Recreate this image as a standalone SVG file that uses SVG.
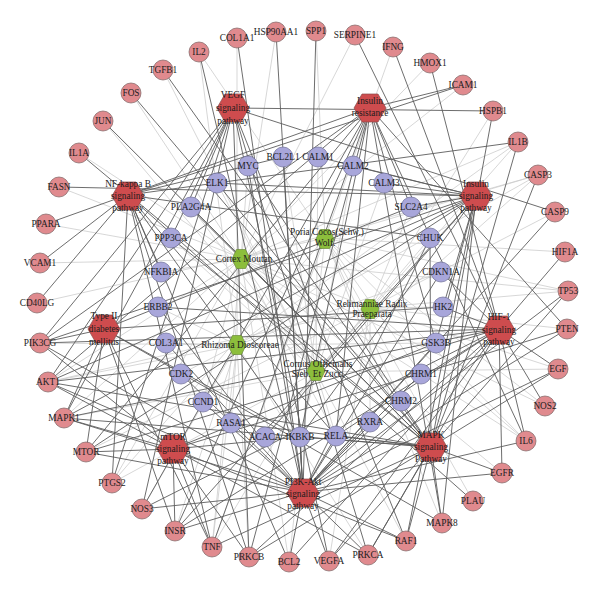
<svg xmlns="http://www.w3.org/2000/svg" xmlns:xlink="http://www.w3.org/1999/xlink" width="600" height="594" viewBox="0 0 600 594">
<style>
.l{stroke:#cdcdcd;stroke-width:0.8}
.d{stroke:#5c5c5c;stroke-width:0.9}
.pk{fill:#E08A8E;stroke:#7d6363;stroke-width:0.7}
.pu{fill:#A8A6DA;stroke:#6e6e98;stroke-width:0.7}
text{font-family:"Liberation Serif","DejaVu Serif",serif;font-size:9.3px;fill:#1c1c1c;text-anchor:middle;dominant-baseline:central}
</style>
<defs>
<polygon id="hr" points="-16,0 -8,-14 8,-14 16,0 8,14 -8,14" fill="#CE4C4E" stroke="#8a4a4a" stroke-width="0.7"/>
<polygon id="hg" points="-9,0 -4.5,-9.5 4.5,-9.5 9,0 4.5,9.5 -4.5,9.5" fill="#8CBE3C" stroke="#6a8a3a" stroke-width="0.7"/>
</defs>
<rect width="600" height="594" fill="#fff"/>
<g id="connectors">
<g id="light-edges">
<line class="l" x1="241" y1="259" x2="48" y2="382"/>
<line class="l" x1="241" y1="259" x2="212" y2="547"/>
<line class="l" x1="241" y1="259" x2="526" y2="441"/>
<line class="l" x1="241" y1="259" x2="112" y2="483"/>
<line class="l" x1="241" y1="259" x2="545" y2="406"/>
<line class="l" x1="241" y1="259" x2="64" y2="418"/>
<line class="l" x1="241" y1="259" x2="538" y2="175"/>
<line class="l" x1="241" y1="259" x2="518" y2="142"/>
<line class="l" x1="241" y1="259" x2="568" y2="291"/>
<line class="l" x1="241" y1="259" x2="103" y2="121"/>
<line class="l" x1="241" y1="259" x2="463" y2="85"/>
<line class="l" x1="241" y1="259" x2="40" y2="263"/>
<line class="l" x1="241" y1="259" x2="430" y2="63"/>
<line class="l" x1="241" y1="259" x2="161" y2="272"/>
<line class="l" x1="241" y1="259" x2="336" y2="436"/>
<line class="l" x1="241" y1="259" x2="502" y2="473"/>
<line class="l" x1="241" y1="259" x2="289" y2="562"/>
<line class="l" x1="241" y1="259" x2="248" y2="166"/>
<line class="l" x1="241" y1="259" x2="79" y2="153"/>
<line class="l" x1="241" y1="259" x2="355" y2="35"/>
<line class="l" x1="241" y1="259" x2="203" y2="402"/>
<line class="l" x1="241" y1="259" x2="46" y2="224"/>
<line class="l" x1="241" y1="259" x2="276" y2="32"/>
<line class="l" x1="325" y1="238" x2="212" y2="547"/>
<line class="l" x1="325" y1="238" x2="526" y2="441"/>
<line class="l" x1="325" y1="238" x2="112" y2="483"/>
<line class="l" x1="325" y1="238" x2="538" y2="175"/>
<line class="l" x1="325" y1="238" x2="289" y2="562"/>
<line class="l" x1="325" y1="238" x2="545" y2="406"/>
<line class="l" x1="325" y1="238" x2="393" y2="47"/>
<line class="l" x1="325" y1="238" x2="199" y2="52"/>
<line class="l" x1="325" y1="238" x2="568" y2="291"/>
<line class="l" x1="325" y1="238" x2="565" y2="252"/>
<line class="l" x1="325" y1="238" x2="421" y2="374"/>
<line class="l" x1="325" y1="238" x2="401" y2="401"/>
<line class="l" x1="325" y1="238" x2="442" y2="523"/>
<line class="l" x1="325" y1="238" x2="316" y2="31"/>
<line class="l" x1="325" y1="238" x2="37" y2="303"/>
<line class="l" x1="325" y1="238" x2="473" y2="501"/>
<line class="l" x1="370" y1="308" x2="48" y2="382"/>
<line class="l" x1="370" y1="308" x2="568" y2="291"/>
<line class="l" x1="370" y1="308" x2="329" y2="561"/>
<line class="l" x1="370" y1="308" x2="526" y2="441"/>
<line class="l" x1="370" y1="308" x2="555" y2="212"/>
<line class="l" x1="370" y1="308" x2="558" y2="369"/>
<line class="l" x1="370" y1="308" x2="567" y2="329"/>
<line class="l" x1="370" y1="308" x2="493" y2="111"/>
<line class="l" x1="370" y1="308" x2="86" y2="452"/>
<line class="l" x1="370" y1="308" x2="443" y2="307"/>
<line class="l" x1="370" y1="308" x2="411" y2="207"/>
<line class="l" x1="370" y1="308" x2="59" y2="187"/>
<line class="l" x1="370" y1="308" x2="265" y2="437"/>
<line class="l" x1="370" y1="308" x2="370" y2="422"/>
<line class="l" x1="237" y1="345" x2="48" y2="382"/>
<line class="l" x1="237" y1="345" x2="175" y2="531"/>
<line class="l" x1="237" y1="345" x2="40" y2="343"/>
<line class="l" x1="237" y1="345" x2="538" y2="175"/>
<line class="l" x1="237" y1="345" x2="212" y2="547"/>
<line class="l" x1="237" y1="345" x2="518" y2="142"/>
<line class="l" x1="237" y1="345" x2="237" y2="38"/>
<line class="l" x1="237" y1="345" x2="166" y2="343"/>
<line class="l" x1="237" y1="345" x2="199" y2="52"/>
<line class="l" x1="237" y1="345" x2="436" y2="343"/>
<line class="l" x1="237" y1="345" x2="181" y2="374"/>
<line class="l" x1="237" y1="345" x2="441" y2="272"/>
<line class="l" x1="237" y1="345" x2="158" y2="307"/>
<line class="l" x1="237" y1="345" x2="368" y2="555"/>
<line class="l" x1="237" y1="345" x2="249" y2="557"/>
<line class="l" x1="237" y1="345" x2="231" y2="423"/>
<line class="l" x1="237" y1="345" x2="142" y2="509"/>
<line class="l" x1="316" y1="372" x2="131" y2="93"/>
<line class="l" x1="316" y1="372" x2="163" y2="70"/>
<line class="l" x1="316" y1="372" x2="103" y2="121"/>
<line class="l" x1="316" y1="372" x2="336" y2="436"/>
<line class="l" x1="316" y1="372" x2="300" y2="437"/>
<line class="l" x1="316" y1="372" x2="430" y2="238"/>
<line class="l" x1="316" y1="372" x2="283" y2="157"/>
<line class="l" x1="316" y1="372" x2="217" y2="183"/>
<line class="l" x1="316" y1="372" x2="318" y2="157"/>
<line class="l" x1="316" y1="372" x2="353" y2="166"/>
<line class="l" x1="316" y1="372" x2="384" y2="183"/>
<line class="l" x1="316" y1="372" x2="171" y2="238"/>
<line class="l" x1="316" y1="372" x2="191" y2="207"/>
<line class="l" x1="316" y1="372" x2="558" y2="369"/>
<line class="l" x1="316" y1="372" x2="64" y2="418"/>
<line class="l" x1="316" y1="372" x2="406" y2="541"/>
<line class="l" x1="316" y1="372" x2="518" y2="142"/>
<line class="l" x1="316" y1="372" x2="538" y2="175"/>
<line class="l" x1="316" y1="372" x2="212" y2="547"/>
<line class="l" x1="316" y1="372" x2="112" y2="483"/>
</g>
<g id="dark-edges">
<line class="d" x1="233" y1="108" x2="493" y2="111"/>
<line class="d" x1="233" y1="108" x2="191" y2="207"/>
<line class="d" x1="233" y1="108" x2="171" y2="238"/>
<line class="d" x1="233" y1="108" x2="112" y2="483"/>
<line class="d" x1="233" y1="108" x2="142" y2="509"/>
<line class="d" x1="233" y1="108" x2="64" y2="418"/>
<line class="d" x1="233" y1="108" x2="48" y2="382"/>
<line class="d" x1="233" y1="108" x2="40" y2="343"/>
<line class="d" x1="233" y1="108" x2="406" y2="541"/>
<line class="d" x1="233" y1="108" x2="368" y2="555"/>
<line class="d" x1="233" y1="108" x2="249" y2="557"/>
<line class="d" x1="233" y1="108" x2="555" y2="212"/>
<line class="d" x1="233" y1="108" x2="329" y2="561"/>
<line class="d" x1="370" y1="108" x2="463" y2="85"/>
<line class="d" x1="370" y1="108" x2="48" y2="382"/>
<line class="d" x1="370" y1="108" x2="86" y2="452"/>
<line class="d" x1="370" y1="108" x2="40" y2="343"/>
<line class="d" x1="370" y1="108" x2="175" y2="531"/>
<line class="d" x1="370" y1="108" x2="411" y2="207"/>
<line class="d" x1="370" y1="108" x2="436" y2="343"/>
<line class="d" x1="370" y1="108" x2="212" y2="547"/>
<line class="d" x1="370" y1="108" x2="300" y2="437"/>
<line class="d" x1="370" y1="108" x2="336" y2="436"/>
<line class="d" x1="370" y1="108" x2="567" y2="329"/>
<line class="d" x1="370" y1="108" x2="46" y2="224"/>
<line class="d" x1="370" y1="108" x2="442" y2="523"/>
<line class="d" x1="370" y1="108" x2="526" y2="441"/>
<line class="d" x1="370" y1="108" x2="142" y2="509"/>
<line class="d" x1="370" y1="108" x2="249" y2="557"/>
<line class="d" x1="128" y1="195" x2="518" y2="142"/>
<line class="d" x1="128" y1="195" x2="212" y2="547"/>
<line class="d" x1="128" y1="195" x2="336" y2="436"/>
<line class="d" x1="128" y1="195" x2="161" y2="272"/>
<line class="d" x1="128" y1="195" x2="300" y2="437"/>
<line class="d" x1="128" y1="195" x2="430" y2="238"/>
<line class="d" x1="128" y1="195" x2="463" y2="85"/>
<line class="d" x1="128" y1="195" x2="40" y2="263"/>
<line class="d" x1="128" y1="195" x2="37" y2="303"/>
<line class="d" x1="128" y1="195" x2="289" y2="562"/>
<line class="d" x1="128" y1="195" x2="283" y2="157"/>
<line class="d" x1="128" y1="195" x2="112" y2="483"/>
<line class="d" x1="128" y1="195" x2="473" y2="501"/>
<line class="d" x1="128" y1="195" x2="249" y2="557"/>
<line class="d" x1="476" y1="196" x2="59" y2="187"/>
<line class="d" x1="476" y1="196" x2="175" y2="531"/>
<line class="d" x1="476" y1="196" x2="48" y2="382"/>
<line class="d" x1="476" y1="196" x2="40" y2="343"/>
<line class="d" x1="476" y1="196" x2="86" y2="452"/>
<line class="d" x1="476" y1="196" x2="411" y2="207"/>
<line class="d" x1="476" y1="196" x2="436" y2="343"/>
<line class="d" x1="476" y1="196" x2="443" y2="307"/>
<line class="d" x1="476" y1="196" x2="265" y2="437"/>
<line class="d" x1="476" y1="196" x2="318" y2="157"/>
<line class="d" x1="476" y1="196" x2="353" y2="166"/>
<line class="d" x1="476" y1="196" x2="384" y2="183"/>
<line class="d" x1="476" y1="196" x2="406" y2="541"/>
<line class="d" x1="476" y1="196" x2="64" y2="418"/>
<line class="d" x1="476" y1="196" x2="442" y2="523"/>
<line class="d" x1="476" y1="196" x2="217" y2="183"/>
<line class="d" x1="476" y1="196" x2="300" y2="437"/>
<line class="d" x1="104" y1="329" x2="175" y2="531"/>
<line class="d" x1="104" y1="329" x2="411" y2="207"/>
<line class="d" x1="104" y1="329" x2="40" y2="343"/>
<line class="d" x1="104" y1="329" x2="86" y2="452"/>
<line class="d" x1="104" y1="329" x2="300" y2="437"/>
<line class="d" x1="104" y1="329" x2="212" y2="547"/>
<line class="d" x1="104" y1="329" x2="64" y2="418"/>
<line class="d" x1="104" y1="329" x2="442" y2="523"/>
<line class="d" x1="104" y1="329" x2="443" y2="307"/>
<line class="d" x1="499" y1="329" x2="565" y2="252"/>
<line class="d" x1="499" y1="329" x2="329" y2="561"/>
<line class="d" x1="499" y1="329" x2="545" y2="406"/>
<line class="d" x1="499" y1="329" x2="142" y2="509"/>
<line class="d" x1="499" y1="329" x2="558" y2="369"/>
<line class="d" x1="499" y1="329" x2="502" y2="473"/>
<line class="d" x1="499" y1="329" x2="158" y2="307"/>
<line class="d" x1="499" y1="329" x2="48" y2="382"/>
<line class="d" x1="499" y1="329" x2="40" y2="343"/>
<line class="d" x1="499" y1="329" x2="86" y2="452"/>
<line class="d" x1="499" y1="329" x2="64" y2="418"/>
<line class="d" x1="499" y1="329" x2="430" y2="63"/>
<line class="d" x1="499" y1="329" x2="393" y2="47"/>
<line class="d" x1="499" y1="329" x2="526" y2="441"/>
<line class="d" x1="499" y1="329" x2="441" y2="272"/>
<line class="d" x1="499" y1="329" x2="289" y2="562"/>
<line class="d" x1="499" y1="329" x2="336" y2="436"/>
<line class="d" x1="499" y1="329" x2="175" y2="531"/>
<line class="d" x1="499" y1="329" x2="443" y2="307"/>
<line class="d" x1="499" y1="329" x2="368" y2="555"/>
<line class="d" x1="499" y1="329" x2="249" y2="557"/>
<line class="d" x1="499" y1="329" x2="355" y2="35"/>
<line class="d" x1="173" y1="449" x2="86" y2="452"/>
<line class="d" x1="173" y1="449" x2="48" y2="382"/>
<line class="d" x1="173" y1="449" x2="40" y2="343"/>
<line class="d" x1="173" y1="449" x2="64" y2="418"/>
<line class="d" x1="173" y1="449" x2="406" y2="541"/>
<line class="d" x1="173" y1="449" x2="567" y2="329"/>
<line class="d" x1="173" y1="449" x2="436" y2="343"/>
<line class="d" x1="173" y1="449" x2="212" y2="547"/>
<line class="d" x1="173" y1="449" x2="300" y2="437"/>
<line class="d" x1="173" y1="449" x2="175" y2="531"/>
<line class="d" x1="173" y1="449" x2="368" y2="555"/>
<line class="d" x1="173" y1="449" x2="249" y2="557"/>
<line class="d" x1="431" y1="447" x2="64" y2="418"/>
<line class="d" x1="431" y1="447" x2="442" y2="523"/>
<line class="d" x1="431" y1="447" x2="406" y2="541"/>
<line class="d" x1="431" y1="447" x2="217" y2="183"/>
<line class="d" x1="431" y1="447" x2="131" y2="93"/>
<line class="d" x1="431" y1="447" x2="103" y2="121"/>
<line class="d" x1="431" y1="447" x2="248" y2="166"/>
<line class="d" x1="431" y1="447" x2="568" y2="291"/>
<line class="d" x1="431" y1="447" x2="212" y2="547"/>
<line class="d" x1="431" y1="447" x2="79" y2="153"/>
<line class="d" x1="431" y1="447" x2="518" y2="142"/>
<line class="d" x1="431" y1="447" x2="558" y2="369"/>
<line class="d" x1="431" y1="447" x2="502" y2="473"/>
<line class="d" x1="431" y1="447" x2="368" y2="555"/>
<line class="d" x1="431" y1="447" x2="249" y2="557"/>
<line class="d" x1="431" y1="447" x2="191" y2="207"/>
<line class="d" x1="431" y1="447" x2="171" y2="238"/>
<line class="d" x1="431" y1="447" x2="430" y2="238"/>
<line class="d" x1="431" y1="447" x2="300" y2="437"/>
<line class="d" x1="431" y1="447" x2="336" y2="436"/>
<line class="d" x1="431" y1="447" x2="493" y2="111"/>
<line class="d" x1="431" y1="447" x2="538" y2="175"/>
<line class="d" x1="431" y1="447" x2="48" y2="382"/>
<line class="d" x1="431" y1="447" x2="329" y2="561"/>
<line class="d" x1="431" y1="447" x2="163" y2="70"/>
<line class="d" x1="431" y1="447" x2="231" y2="423"/>
<line class="d" x1="303" y1="492" x2="48" y2="382"/>
<line class="d" x1="303" y1="492" x2="40" y2="343"/>
<line class="d" x1="303" y1="492" x2="86" y2="452"/>
<line class="d" x1="303" y1="492" x2="567" y2="329"/>
<line class="d" x1="303" y1="492" x2="436" y2="343"/>
<line class="d" x1="303" y1="492" x2="248" y2="166"/>
<line class="d" x1="303" y1="492" x2="203" y2="402"/>
<line class="d" x1="303" y1="492" x2="181" y2="374"/>
<line class="d" x1="303" y1="492" x2="441" y2="272"/>
<line class="d" x1="303" y1="492" x2="289" y2="562"/>
<line class="d" x1="303" y1="492" x2="283" y2="157"/>
<line class="d" x1="303" y1="492" x2="555" y2="212"/>
<line class="d" x1="303" y1="492" x2="568" y2="291"/>
<line class="d" x1="303" y1="492" x2="558" y2="369"/>
<line class="d" x1="303" y1="492" x2="502" y2="473"/>
<line class="d" x1="303" y1="492" x2="158" y2="307"/>
<line class="d" x1="303" y1="492" x2="329" y2="561"/>
<line class="d" x1="303" y1="492" x2="526" y2="441"/>
<line class="d" x1="303" y1="492" x2="199" y2="52"/>
<line class="d" x1="303" y1="492" x2="175" y2="531"/>
<line class="d" x1="303" y1="492" x2="276" y2="32"/>
<line class="d" x1="303" y1="492" x2="237" y2="38"/>
<line class="d" x1="303" y1="492" x2="166" y2="343"/>
<line class="d" x1="303" y1="492" x2="316" y2="31"/>
<line class="d" x1="303" y1="492" x2="370" y2="422"/>
<line class="d" x1="303" y1="492" x2="421" y2="374"/>
<line class="d" x1="303" y1="492" x2="401" y2="401"/>
<line class="d" x1="303" y1="492" x2="336" y2="436"/>
<line class="d" x1="303" y1="492" x2="300" y2="437"/>
<line class="d" x1="303" y1="492" x2="430" y2="238"/>
<line class="d" x1="303" y1="492" x2="406" y2="541"/>
<line class="d" x1="303" y1="492" x2="64" y2="418"/>
<line class="d" x1="303" y1="492" x2="368" y2="555"/>
<line class="d" x1="303" y1="492" x2="142" y2="509"/>
</g>
</g>
<g id="pathways">
<g id="n-vegf"><use href="#hr" x="233" y="108"/><text x="233" y="95">VEGF</text><text x="233" y="108">signaling</text><text x="233" y="121">pathway</text></g>
<g id="n-ir"><use href="#hr" x="370" y="108"/><text x="370" y="101">Insulin</text><text x="370" y="113">resistance</text></g>
<g id="n-nfkb"><use href="#hr" x="128" y="196"/><text x="128" y="184">NF-kappa B</text><text x="128" y="196">signaling</text><text x="128" y="208">pathway</text></g>
<g id="n-isp"><use href="#hr" x="476" y="196"/><text x="476" y="184">Insulin</text><text x="476" y="196">signaling</text><text x="476" y="208">pathway</text></g>
<g id="n-t2d"><use href="#hr" x="104" y="329"/><text x="104" y="316">Type II</text><text x="104" y="329">diabetes</text><text x="104" y="342">mellitus</text></g>
<g id="n-hif"><use href="#hr" x="499" y="330"/><text x="499" y="317">HIF-1</text><text x="499" y="330">signaling</text><text x="499" y="342">pathway</text></g>
<g id="n-mtor"><use href="#hr" x="173" y="449"/><text x="173" y="437">mTOR</text><text x="173" y="449">signaling</text><text x="173" y="461">pathway</text></g>
<g id="n-mapk"><use href="#hr" x="431" y="447"/><text x="431" y="435">MAPK</text><text x="431" y="447">signaling</text><text x="431" y="459">Pathway</text></g>
<g id="n-pi3k"><use href="#hr" x="303" y="493"/><text x="303" y="482">PI3K-Akt</text><text x="303" y="494">signaling</text><text x="303" y="506">pathway</text></g>
</g>
<g id="herbs">
<g id="n-cm"><use href="#hg" x="241" y="259"/><text x="244" y="259">Cortex Moutan</text></g>
<g id="n-pc"><use href="#hg" x="325" y="239"/><text x="327" y="232">Poria Cocos(Schw.)</text><text x="325" y="243">Wolf.</text></g>
<g id="n-rr"><use href="#hg" x="370" y="309"/><text x="372" y="304">Rehmanniae Radix</text><text x="372" y="314">Praeparata</text></g>
<g id="n-rd"><use href="#hg" x="237" y="345"/><text x="240" y="345">Rhizoma Dioscoreae</text></g>
<g id="n-co"><use href="#hg" x="316" y="371"/><text x="318" y="364">Cornus Officinalis</text><text x="318" y="374">Sieb. Et Zucc.</text></g>
</g>
<g id="targets">
<g id="n-myc"><circle class="pu" cx="248" cy="166" r="10"/><text x="248" y="166">MYC</text></g>
<g id="n-bcl2l1"><circle class="pu" cx="283" cy="157" r="10"/><text x="283" y="157">BCL2L1</text></g>
<g id="n-calm1"><circle class="pu" cx="318" cy="157" r="10"/><text x="318" y="157">CALM1</text></g>
<g id="n-calm2"><circle class="pu" cx="353" cy="166" r="10"/><text x="353" y="166">CALM2</text></g>
<g id="n-calm3"><circle class="pu" cx="384" cy="183" r="10"/><text x="384" y="183">CALM3</text></g>
<g id="n-slc2a4"><circle class="pu" cx="411" cy="207" r="10"/><text x="411" y="207">SLC2A4</text></g>
<g id="n-chuk"><circle class="pu" cx="430" cy="238" r="10"/><text x="430" y="238">CHUK</text></g>
<g id="n-cdkn1a"><circle class="pu" cx="441" cy="272" r="10"/><text x="441" y="272">CDKN1A</text></g>
<g id="n-hk2"><circle class="pu" cx="443" cy="307" r="10"/><text x="443" y="307">HK2</text></g>
<g id="n-gsk3b"><circle class="pu" cx="436" cy="343" r="10"/><text x="436" y="343">GSK3B</text></g>
<g id="n-chrm1"><circle class="pu" cx="421" cy="374" r="10"/><text x="421" y="374">CHRM1</text></g>
<g id="n-chrm2"><circle class="pu" cx="401" cy="401" r="10"/><text x="401" y="401">CHRM2</text></g>
<g id="n-rxra"><circle class="pu" cx="370" cy="422" r="10"/><text x="370" y="422">RXRA</text></g>
<g id="n-rela"><circle class="pu" cx="336" cy="436" r="10"/><text x="336" y="436">RELA</text></g>
<g id="n-ikbkb"><circle class="pu" cx="300" cy="437" r="10"/><text x="300" y="437">IKBKB</text></g>
<g id="n-acaca"><circle class="pu" cx="265" cy="437" r="10"/><text x="265" y="437">ACACA</text></g>
<g id="n-rasa1"><circle class="pu" cx="231" cy="423" r="10"/><text x="231" y="423">RASA1</text></g>
<g id="n-ccnd1"><circle class="pu" cx="203" cy="402" r="10"/><text x="203" y="402">CCND1</text></g>
<g id="n-cdk2"><circle class="pu" cx="181" cy="374" r="10"/><text x="181" y="374">CDK2</text></g>
<g id="n-col3a1"><circle class="pu" cx="166" cy="343" r="10"/><text x="166" y="343">COL3A1</text></g>
<g id="n-erbb2"><circle class="pu" cx="158" cy="307" r="10"/><text x="158" y="307">ERBB2</text></g>
<g id="n-nfkbia"><circle class="pu" cx="161" cy="272" r="10"/><text x="161" y="272">NFKBIA</text></g>
<g id="n-ppp3ca"><circle class="pu" cx="171" cy="238" r="10"/><text x="171" y="238">PPP3CA</text></g>
<g id="n-pla2g4a"><circle class="pu" cx="191" cy="207" r="10"/><text x="191" y="207">PLA2G4A</text></g>
<g id="n-elk1"><circle class="pu" cx="217" cy="183" r="10"/><text x="217" y="183">ELK1</text></g>
<g id="n-col1a1"><circle class="pk" cx="237" cy="38" r="10"/><text x="237" y="38">COL1A1</text></g>
<g id="n-hsp90aa1"><circle class="pk" cx="276" cy="32" r="10"/><text x="276" y="32">HSP90AA1</text></g>
<g id="n-il2"><circle class="pk" cx="199" cy="52" r="10"/><text x="199" y="52">IL2</text></g>
<g id="n-tgfb1"><circle class="pk" cx="163" cy="70" r="10"/><text x="163" y="70">TGFB1</text></g>
<g id="n-fos"><circle class="pk" cx="131" cy="93" r="10"/><text x="131" y="93">FOS</text></g>
<g id="n-jun"><circle class="pk" cx="103" cy="121" r="10"/><text x="103" y="121">JUN</text></g>
<g id="n-il1a"><circle class="pk" cx="79" cy="153" r="10"/><text x="79" y="153">IL1A</text></g>
<g id="n-fasn"><circle class="pk" cx="59" cy="187" r="10"/><text x="59" y="187">FASN</text></g>
<g id="n-spp1"><circle class="pk" cx="316" cy="31" r="10"/><text x="316" y="31">SPP1</text></g>
<g id="n-serpine1"><circle class="pk" cx="355" cy="35" r="10"/><text x="355" y="35">SERPINE1</text></g>
<g id="n-ifng"><circle class="pk" cx="393" cy="47" r="10"/><text x="393" y="47">IFNG</text></g>
<g id="n-hmox1"><circle class="pk" cx="430" cy="63" r="10"/><text x="430" y="63">HMOX1</text></g>
<g id="n-icam1"><circle class="pk" cx="463" cy="85" r="10"/><text x="463" y="85">ICAM1</text></g>
<g id="n-hspb1"><circle class="pk" cx="493" cy="111" r="10"/><text x="493" y="111">HSPB1</text></g>
<g id="n-il1b"><circle class="pk" cx="518" cy="142" r="10"/><text x="518" y="142">IL1B</text></g>
<g id="n-casp3"><circle class="pk" cx="538" cy="175" r="10"/><text x="538" y="175">CASP3</text></g>
<g id="n-casp9"><circle class="pk" cx="555" cy="212" r="10"/><text x="555" y="212">CASP9</text></g>
<g id="n-hif1a"><circle class="pk" cx="565" cy="252" r="10"/><text x="565" y="252">HIF1A</text></g>
<g id="n-tp53"><circle class="pk" cx="568" cy="291" r="10"/><text x="568" y="291">TP53</text></g>
<g id="n-pten"><circle class="pk" cx="567" cy="329" r="10"/><text x="567" y="329">PTEN</text></g>
<g id="n-egf"><circle class="pk" cx="558" cy="369" r="10"/><text x="558" y="369">EGF</text></g>
<g id="n-nos2"><circle class="pk" cx="545" cy="406" r="10"/><text x="545" y="406">NOS2</text></g>
<g id="n-il6"><circle class="pk" cx="526" cy="441" r="10"/><text x="526" y="441">IL6</text></g>
<g id="n-egfr"><circle class="pk" cx="502" cy="473" r="10"/><text x="502" y="473">EGFR</text></g>
<g id="n-plau"><circle class="pk" cx="473" cy="501" r="10"/><text x="473" y="501">PLAU</text></g>
<g id="n-mapk8"><circle class="pk" cx="442" cy="523" r="10"/><text x="442" y="523">MAPK8</text></g>
<g id="n-raf1"><circle class="pk" cx="406" cy="541" r="10"/><text x="406" y="541">RAF1</text></g>
<g id="n-prkca"><circle class="pk" cx="368" cy="555" r="10"/><text x="368" y="555">PRKCA</text></g>
<g id="n-vegfa"><circle class="pk" cx="329" cy="561" r="10"/><text x="329" y="561">VEGFA</text></g>
<g id="n-bcl2"><circle class="pk" cx="289" cy="562" r="10"/><text x="289" y="562">BCL2</text></g>
<g id="n-prkcb"><circle class="pk" cx="249" cy="557" r="10"/><text x="249" y="557">PRKCB</text></g>
<g id="n-tnf"><circle class="pk" cx="212" cy="547" r="10"/><text x="212" y="547">TNF</text></g>
<g id="n-insr"><circle class="pk" cx="175" cy="531" r="10"/><text x="175" y="531">INSR</text></g>
<g id="n-nos3"><circle class="pk" cx="142" cy="509" r="10"/><text x="142" y="509">NOS3</text></g>
<g id="n-ptgs2"><circle class="pk" cx="112" cy="483" r="10"/><text x="112" y="483">PTGS2</text></g>
<g id="n-mtor-g"><circle class="pk" cx="86" cy="452" r="10"/><text x="86" y="452">MTOR</text></g>
<g id="n-mapk1"><circle class="pk" cx="64" cy="418" r="10"/><text x="64" y="418">MAPK1</text></g>
<g id="n-akt1"><circle class="pk" cx="48" cy="382" r="10"/><text x="48" y="382">AKT1</text></g>
<g id="n-pik3cg"><circle class="pk" cx="40" cy="343" r="10"/><text x="40" y="343">PIK3CG</text></g>
<g id="n-cd40lg"><circle class="pk" cx="37" cy="303" r="10"/><text x="37" y="303">CD40LG</text></g>
<g id="n-vcam1"><circle class="pk" cx="40" cy="263" r="10"/><text x="40" y="263">VCAM1</text></g>
<g id="n-ppara"><circle class="pk" cx="46" cy="224" r="10"/><text x="46" y="224">PPARA</text></g>
</g>
</svg>
